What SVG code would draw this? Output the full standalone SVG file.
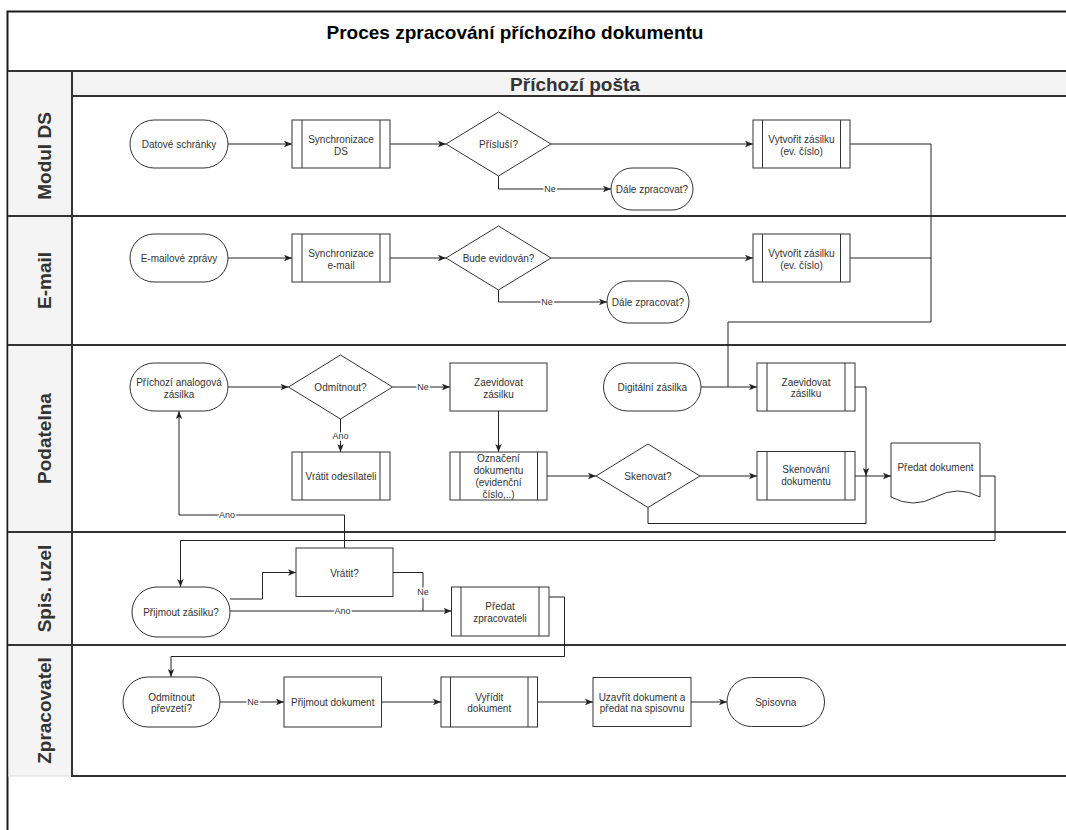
<svg xmlns="http://www.w3.org/2000/svg" width="1066" height="830" viewBox="0 0 1066 830">
  <style>
    .frame{fill:#fff;stroke:#1a1a1a;stroke-width:2}
    .band{fill:#f4f4f4;stroke:none}
    .lane{stroke:#333;stroke-width:2;fill:none}
    .shape{fill:#fff;stroke:#333;stroke-width:1}
    .bar{stroke:#333;stroke-width:1;fill:none}
    .t{font-family:"Liberation Sans",Arial,sans-serif;font-size:10px;fill:#333;text-anchor:middle}
    .hdr{font-family:"Liberation Sans",Arial,sans-serif;font-weight:bold;font-size:19px;fill:#333;text-anchor:middle}
    .title{font-family:"Liberation Sans",Arial,sans-serif;font-weight:bold;font-size:19px;fill:#000;text-anchor:middle}
    .edge{fill:none;stroke:#222;stroke-width:1}
    .arr{marker-end:url(#arrow)}
    .lbl{font-family:"Liberation Sans",Arial,sans-serif;font-size:9px;fill:#333;text-anchor:middle;stroke:#fff;stroke-width:3;paint-order:stroke}
  </style>
  <defs>
    <marker id="arrow" viewBox="0 0 10 10" refX="10" refY="5" markerWidth="8" markerHeight="8" markerUnits="userSpaceOnUse" orient="auto">
      <path d="M0,1 L10,5 L0,9 L2.5,5 Z" fill="#222"/>
    </marker>
  </defs>

  <!-- outer frame and title -->
  <g id="frame">
    <rect class="frame" x="7.5" y="11.5" width="1080" height="840"/>
    <text class="title" x="515" y="39">Proces zpracování příchozího dokumentu</text>
  </g>

  <!-- pool with lanes -->
  <g id="pool">
    <rect class="band" x="8.5" y="71" width="63.5" height="705"/>
    <rect class="band" x="72" y="71" width="1000" height="25"/>
    <line class="lane" x1="8" y1="71" x2="1066" y2="71"/>
    <line class="lane" x1="72" y1="96" x2="1066" y2="96"/>
    <line class="lane" x1="8" y1="216" x2="1066" y2="216"/>
    <line class="lane" x1="8" y1="345" x2="1066" y2="345"/>
    <line class="lane" x1="8" y1="532" x2="1066" y2="532"/>
    <line class="lane" x1="8" y1="645" x2="1066" y2="645"/>
    <line class="lane" x1="72" y1="776" x2="1066" y2="776"/>
    <line x1="8" y1="776" x2="72" y2="776" stroke="#ddd" stroke-width="1"/>
    <line class="lane" x1="72" y1="71" x2="72" y2="777"/>
    <text class="hdr" x="575" y="91">Příchozí pošta</text>
    <text class="hdr" transform="translate(51,156) rotate(-90)">Modul DS</text>
    <text class="hdr" transform="translate(51,280.5) rotate(-90)">E-mail</text>
    <text class="hdr" transform="translate(51,438.5) rotate(-90)">Podatelna</text>
    <text class="hdr" transform="translate(51,588.5) rotate(-90)">Spis. uzel</text>
    <text class="hdr" transform="translate(51,710.5) rotate(-90)">Zpracovatel</text>
  </g>

  <!-- connectors -->
  <g id="connectors">
    <!-- Modul DS -->
    <path class="edge arr" d="M228,144 H292"/>
    <path class="edge arr" d="M390,144 H446"/>
    <path class="edge arr" d="M551,144 H753"/>
    <path class="edge arr" d="M498.5,176 V189 H611"/>
    <text class="lbl" x="550" y="192">Ne</text>
    <path class="edge" d="M850,144 H931 V322 H728 V387"/>
    <!-- E-mail -->
    <path class="edge arr" d="M228,258 H292"/>
    <path class="edge arr" d="M390,258 H446"/>
    <path class="edge arr" d="M551,258 H753"/>
    <path class="edge arr" d="M498.5,290 V302 H607"/>
    <text class="lbl" x="547" y="305">Ne</text>
    <path class="edge" d="M850,258 H931"/>
    <!-- Podatelna -->
    <path class="edge arr" d="M228,387 H288.5"/>
    <path class="edge arr" d="M392.5,387 H450"/>
    <text class="lbl" x="423" y="390">Ne</text>
    <path class="edge arr" d="M340.5,419 V452"/>
    <text class="lbl" x="340.5" y="439">Ano</text>
    <path class="edge arr" d="M498.5,411 V452"/>
    <path class="edge arr" d="M547,476 H596"/>
    <path class="edge arr" d="M700,476 H757"/>
    <path class="edge arr" d="M855,476 H891"/>
    <path class="edge arr" d="M701,387 H757"/>
    <path class="edge arr" d="M855,387 H866 V476"/>
    <path class="edge" d="M648,507.5 V523.5 H866 V476"/>
    <!-- Spis. uzel -->
    <path class="edge arr" d="M980,476 H995 V540.5 H180.5 V587"/>
    <path class="edge arr" d="M230,599 H262.5 V572.5 H296"/>
    <path class="edge arr" d="M230,611 H451.5"/>
    <text class="lbl" x="342.5" y="614">Ano</text>
    <path class="edge" d="M393,572.5 H423 V611"/>
    <text class="lbl" x="423" y="595">Ne</text>
    <path class="edge arr" d="M344.5,548 V515 H179 V411"/>
    <text class="lbl" x="227" y="518">Ano</text>
    <!-- Zpracovatel -->
    <path class="edge arr" d="M549,597 H564.5 V656.5 H171 V677"/>
    <path class="edge arr" d="M220,702 H284"/>
    <text class="lbl" x="253" y="705">Ne</text>
    <path class="edge arr" d="M381.5,702 H441"/>
    <path class="edge arr" d="M537.5,702 H593"/>
    <path class="edge arr" d="M691,702 H727"/>
  </g>

  <!-- Modul DS lane -->
  <g id="datove-schranky">
    <rect class="shape" x="130" y="120" width="98" height="48" rx="24"/>
    <text class="t" x="179" y="147.5">Datové schránky</text>
  </g>
  <g id="synchronizace-ds">
    <rect class="shape" x="292" y="120" width="98" height="48"/>
    <path class="bar" d="M302,120 V168 M380,120 V168"/>
    <text class="t" x="341" y="143">Synchronizace</text>
    <text class="t" x="341" y="154.5">DS</text>
  </g>
  <g id="prislusi">
    <polygon class="shape" points="446,144 498.5,112 551,144 498.5,176"/>
    <text class="t" x="498.5" y="147.5">Přísluší?</text>
  </g>
  <g id="vytvorit-zasilku-ds">
    <rect class="shape" x="753" y="120" width="97" height="48"/>
    <path class="bar" d="M762.5,120 V168 M840.5,120 V168"/>
    <text class="t" x="801.5" y="143">Vytvořit zásilku</text>
    <text class="t" x="801.5" y="154.5">(ev. číslo)</text>
  </g>
  <g id="dale-zpracovat-ds">
    <rect class="shape" x="611" y="168" width="82" height="42" rx="21"/>
    <text class="t" x="652" y="192.5">Dále zpracovat?</text>
  </g>

  <!-- E-mail lane -->
  <g id="emailove-zpravy">
    <rect class="shape" x="130" y="234" width="98" height="48" rx="24"/>
    <text class="t" x="179" y="261.5">E-mailové zprávy</text>
  </g>
  <g id="synchronizace-email">
    <rect class="shape" x="292" y="234" width="98" height="48"/>
    <path class="bar" d="M302,234 V282 M380,234 V282"/>
    <text class="t" x="341" y="257">Synchronizace</text>
    <text class="t" x="341" y="268.5">e-mail</text>
  </g>
  <g id="bude-evidovan">
    <polygon class="shape" points="446,258 498.5,226 551,258 498.5,290"/>
    <text class="t" x="498.5" y="261.5">Bude evidován?</text>
  </g>
  <g id="vytvorit-zasilku-email">
    <rect class="shape" x="753" y="234" width="97" height="48"/>
    <path class="bar" d="M762.5,234 V282 M840.5,234 V282"/>
    <text class="t" x="801.5" y="257">Vytvořit zásilku</text>
    <text class="t" x="801.5" y="268.5">(ev. číslo)</text>
  </g>
  <g id="dale-zpracovat-email">
    <rect class="shape" x="607" y="281" width="82" height="42" rx="21"/>
    <text class="t" x="648" y="305.5">Dále zpracovat?</text>
  </g>

  <!-- Podatelna lane -->
  <g id="prichozi-analogova">
    <rect class="shape" x="130" y="363" width="98" height="48" rx="24"/>
    <text class="t" x="179" y="386">Příchozí analogová</text>
    <text class="t" x="179" y="397.5">zásilka</text>
  </g>
  <g id="odmitnout">
    <polygon class="shape" points="288.5,387 340.5,355 392.5,387 340.5,419"/>
    <text class="t" x="340.5" y="390.5">Odmítnout?</text>
  </g>
  <g id="zaevidovat-analog">
    <rect class="shape" x="450" y="363" width="97" height="48"/>
    <text class="t" x="498.5" y="386">Zaevidovat</text>
    <text class="t" x="498.5" y="397.5">zásilku</text>
  </g>
  <g id="vratit-odesilateli">
    <rect class="shape" x="292" y="452" width="98" height="48"/>
    <path class="bar" d="M302,452 V500 M380,452 V500"/>
    <text class="t" x="341" y="479.5">Vrátit odesílateli</text>
  </g>
  <g id="oznaceni-dokumentu">
    <rect class="shape" x="450" y="452" width="97" height="48"/>
    <path class="bar" d="M460,452 V500 M537.5,452 V500"/>
    <text class="t" x="498.5" y="462">Označení</text>
    <text class="t" x="498.5" y="474">dokumentu</text>
    <text class="t" x="498.5" y="486">(evidenční</text>
    <text class="t" x="498.5" y="498">číslo,..)</text>
  </g>
  <g id="skenovat">
    <polygon class="shape" points="596,476 648,444 700,476 648,507.5"/>
    <text class="t" x="648" y="479.5">Skenovat?</text>
  </g>
  <g id="skenovani-dokumentu">
    <rect class="shape" x="757" y="451.5" width="98" height="48.5"/>
    <path class="bar" d="M767,451.5 V500 M845,451.5 V500"/>
    <text class="t" x="806" y="472.5">Skenování</text>
    <text class="t" x="806" y="485">dokumentu</text>
  </g>
  <g id="digitalni-zasilka">
    <rect class="shape" x="603.5" y="363" width="97.5" height="48" rx="24"/>
    <text class="t" x="652.25" y="390.5">Digitální zásilka</text>
  </g>
  <g id="zaevidovat-digital">
    <rect class="shape" x="757" y="363" width="98" height="48"/>
    <path class="bar" d="M767,363 V411 M845,363 V411"/>
    <text class="t" x="806" y="385.5">Zaevidovat</text>
    <text class="t" x="806" y="397">zásilku</text>
  </g>
  <g id="predat-dokument">
    <path class="shape" d="M891,443 H980 V497 Q957.75,485 935.5,497 Q913.25,509 891,497 Z"/>
    <text class="t" x="935.5" y="470.5">Předat dokument</text>
  </g>

  <!-- Spis. uzel lane -->
  <g id="prijmout-zasilku">
    <rect class="shape" x="132" y="587" width="98" height="50" rx="25"/>
    <text class="t" x="181" y="615.5">Přijmout zásilku?</text>
  </g>
  <g id="vratit">
    <rect class="shape" x="296" y="548" width="97" height="48.5"/>
    <text class="t" x="344.5" y="577">Vrátit?</text>
  </g>
  <g id="predat-zpracovateli">
    <rect class="shape" x="451.5" y="587" width="97.5" height="49"/>
    <path class="bar" d="M461,587 V636 M539,587 V636"/>
    <text class="t" x="500" y="609.5">Předat</text>
    <text class="t" x="500" y="622">zpracovateli</text>
  </g>

  <!-- Zpracovatel lane -->
  <g id="odmitnout-prevzeti">
    <rect class="shape" x="123" y="677" width="97" height="50" rx="25"/>
    <text class="t" x="171.5" y="700.5">Odmítnout</text>
    <text class="t" x="171.5" y="711.5">převzetí?</text>
  </g>
  <g id="prijmout-dokument">
    <rect class="shape" x="284" y="677" width="97.5" height="50"/>
    <text class="t" x="332.75" y="705.5">Přijmout dokument</text>
  </g>
  <g id="vyridit-dokument">
    <rect class="shape" x="441" y="677" width="96.5" height="50"/>
    <path class="bar" d="M450.5,677 V727 M528,677 V727"/>
    <text class="t" x="489.25" y="700.5">Vyřídit</text>
    <text class="t" x="489.25" y="712">dokument</text>
  </g>
  <g id="uzavrit-dokument">
    <rect class="shape" x="593" y="677.5" width="98" height="49"/>
    <text class="t" x="642" y="700.5">Uzavřít dokument a</text>
    <text class="t" x="642" y="712">předat na spisovnu</text>
  </g>
  <g id="spisovna">
    <rect class="shape" x="727" y="677.5" width="97.5" height="49" rx="24.5"/>
    <text class="t" x="775.75" y="705.5">Spisovna</text>
  </g>
</svg>
